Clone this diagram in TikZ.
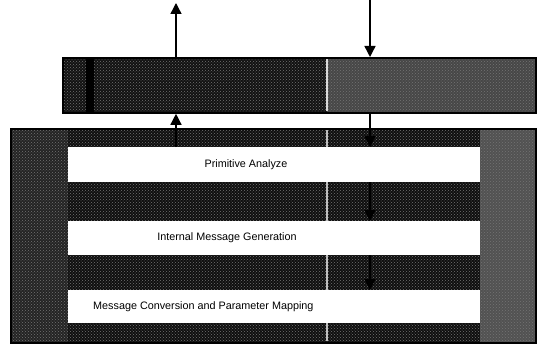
\documentclass[tikz,border=0pt]{standalone}
\usepackage{fontspec}
\setmainfont{Liberation Sans}
\usetikzlibrary{arrows.meta,patterns}

\begin{document}
\begin{tikzpicture}[x=1pt,y=-1pt,
  frame/.style={draw=black,line width=1.8pt,inner sep=0pt,anchor=north west},
  layer/.style={fill=white,draw=none,minimum width=412pt,inner sep=0pt,anchor=north west},
  flow/.style={line width=1.4pt,-{Triangle[length=11pt,width=11pt]}},
  lbl/.style={font=\fontsize{10.8}{13}\selectfont,inner sep=0pt},
  grain/.style={pattern=crosshatch dots,pattern color=black!55}]
\useasboundingbox (0,0) rectangle (540,345);

% interface band
\fill[black!93] (62,57) rectangle (327,112);
\fill[black!72] (327,57) rectangle (535,112);
\fill[grain] (62,57) rectangle (535,112);
\fill[black] (86,57) rectangle (94,112);
\draw[white!85!black,line width=1.2pt] (327,58) -- (327,111);
\node[frame,minimum width=473pt,minimum height=55pt] (band) at (62,57) {};

% processing core
\fill[black!86] (10,128) rectangle (68,342);
\fill[black!94] (68,128) rectangle (480,342);
\fill[black!68] (480,128) rectangle (535,342);
\fill[grain] (10,128) rectangle (535,342);
\draw[white!75!black,line width=1.2pt] (327,129) -- (327,341);
\node[frame,minimum width=525pt,minimum height=214pt] (core) at (10,128) {};

% processing layers
\node[layer,minimum height=35pt] (prim) at (68,147) {};
\node[layer,minimum height=34pt] (intmsg) at (68,221) {};
\node[layer,minimum height=33pt] (conv) at (68,290) {};
\node[lbl] (primtxt) at (246,165) {Primitive Analyze};
\node[lbl] (inttxt) at (227,238) {Internal Message Generation};
\node[lbl,anchor=west] (convtxt) at (93,306.5) {Message Conversion and Parameter Mapping};

% signal flow
\coordinate (outtip) at (176,3);
\coordinate (inbase) at (370,0);
\draw[flow] (band.north -| outtip) -- (outtip);
\draw[flow] (inbase) -- (inbase |- band.north);
\draw[flow] (prim.north -| outtip) -- (outtip |- band.south);
\draw[flow] (band.south -| inbase) -- (inbase |- prim.north);
\draw[flow] (prim.south -| inbase) -- (inbase |- intmsg.north);
\draw[flow] (intmsg.south -| inbase) -- (inbase |- conv.north);
\end{tikzpicture}
\end{document}
